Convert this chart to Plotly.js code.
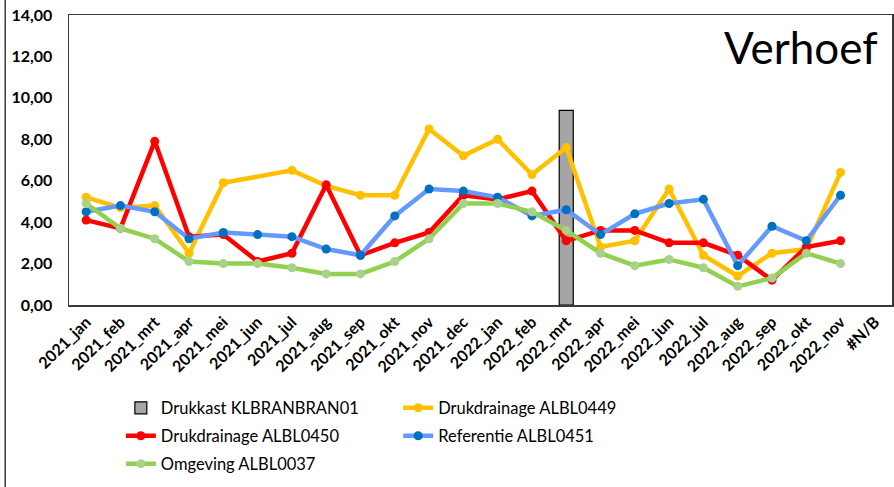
<!DOCTYPE html>
<html>
<head>
<meta charset="utf-8">
<script src="https://cdn.plot.ly/plotly-3.0.1.min.js"></script>
<style>
html,body{margin:0;padding:0;background:#fff;}
#chart{width:894px;height:487px;}
</style>
</head>
<body>
<div id="chart"></div>
<script>
const categories = ["2021_jan","2021_feb","2021_mrt","2021_apr","2021_mei","2021_jun","2021_jul","2021_aug","2021_sep","2021_okt","2021_nov","2021_dec","2022_jan","2022_feb","2022_mrt","2022_apr","2022_mei","2022_jun","2022_jul","2022_aug","2022_sep","2022_okt","2022_nov","#N/B"];

const drukkast = [null,null,null,null,null,null,null,null,null,null,null,null,null,null,9.4,null,null,null,null,null,null,null,null,null];
const alb0449 = [5.2,4.7,4.8,2.5,5.9,null,6.5,5.75,5.3,5.3,8.5,7.2,8.0,6.3,7.6,2.8,3.1,5.6,2.4,1.4,2.5,2.7,6.4,null];
const alb0450 = [4.1,3.7,7.9,3.3,3.4,2.1,2.5,5.8,2.4,3.0,3.5,5.3,5.1,5.5,3.1,3.6,3.6,3.0,3.0,2.4,1.2,2.8,3.1,null];
const alb0451 = [4.5,4.8,4.5,3.2,3.5,3.4,3.3,2.7,2.4,4.3,5.6,5.5,5.2,4.3,4.6,3.4,4.4,4.9,5.1,1.9,3.8,3.1,5.3,null];
const alb0037 = [4.9,3.7,3.2,2.1,2.0,2.0,1.8,1.5,1.5,2.1,3.2,4.9,4.9,4.5,3.6,2.5,1.9,2.2,1.8,0.9,1.3,2.5,2.0,null];

const names = {
  drukkast: "Drukkast KLBRANBRAN01",
  a0449: "Drukdrainage ALBL0449",
  a0450: "Drukdrainage ALBL0450",
  a0451: "Referentie ALBL0451",
  a0037: "Omgeving ALBL0037"
};

function lineTrace(name, y, lineColor, markerColor, legend, group) {
  return {
    type: "scatter", mode: "lines+markers", name: name,
    x: categories, y: y, connectgaps: true, legend: legend, legendgroup: group,
    line: {color: lineColor, width: 4.5},
    marker: {color: markerColor, size: 9}
  };
}

const data = [
  {type: "bar", name: names.drukkast, x: categories, y: drukkast, width: 0.41,
   marker: {color: "#A5A5A5", line: {color: "#000000", width: 1.2}}, legend: "legend", legendgroup: "g1"},
  lineTrace(names.a0449, alb0449, "#FFC000", "#FFC000", "legend2", "g2"),
  lineTrace(names.a0450, alb0450, "#FF0000", "#FF0000", "legend", "g3"),
  lineTrace(names.a0451, alb0451, "#6699FF", "#0070C0", "legend2", "g4"),
  lineTrace(names.a0037, alb0037, "#92D050", "#A9D18E", "legend", "g5")
];

const tickFont = {family: "Lato, 'Open Sans', sans-serif", size: 16, color: "#000", weight: "bold"};
const legendFont = {family: "Lato, 'Open Sans', sans-serif", size: 16.5, color: "#000"};

const layout = {
  width: 894, height: 487,
  margin: {l: 69, r: 2, t: 15, b: 182},
  paper_bgcolor: "#fff", plot_bgcolor: "#fff",
  separators: ",.",
  showlegend: true,
  xaxis: {
    type: "category", categoryorder: "array", categoryarray: categories,
    range: [-0.5, 23.5], autorange: false,
    tickangle: -45, tickfont: tickFont, showgrid: false,
    showline: true, mirror: true, linecolor: "#3a3a3a", linewidth: 1.5,
    ticks: "", zeroline: false, automargin: false
  },
  yaxis: {
    range: [0, 14], autorange: false, dtick: 2, tick0: 0, tickformat: ".2f",
    tickfont: tickFont, showgrid: false, zeroline: false,
    showline: true, mirror: true, linecolor: "#3a3a3a", linewidth: 1.5,
    ticks: "", ticklabelstandoff: 12, automargin: false
  },
  legend: {
    x: 0.063, xanchor: "left", y: -0.295, yanchor: "top",
    orientation: "v", font: legendFont, bgcolor: "rgba(0,0,0,0)",
    itemwidth: 30, traceorder: "grouped", tracegroupgap: 3.5
  },
  legend2: {
    x: 0.4, xanchor: "left", y: -0.295, yanchor: "top",
    orientation: "v", font: legendFont, bgcolor: "rgba(0,0,0,0)",
    itemwidth: 30, traceorder: "grouped", tracegroupgap: 3.5
  },
  annotations: [{
    text: "Verhoef", xref: "paper", yref: "paper",
    x: 0.985, y: 0.985, xanchor: "right", yanchor: "top",
    showarrow: false,
    font: {family: "Lato, 'Open Sans', sans-serif", size: 44, color: "#000"}
  }],
  shapes: [{
    type: "line", xref: "paper", yref: "paper",
    x0: -0.0775, x1: -0.0775, y0: -0.63, y1: 1.06,
    line: {color: "#3a3a3a", width: 1.5}
  }]
};

Plotly.newPlot("chart", data, layout, {displayModeBar: false, staticPlot: true});
</script>
</body>
</html>
